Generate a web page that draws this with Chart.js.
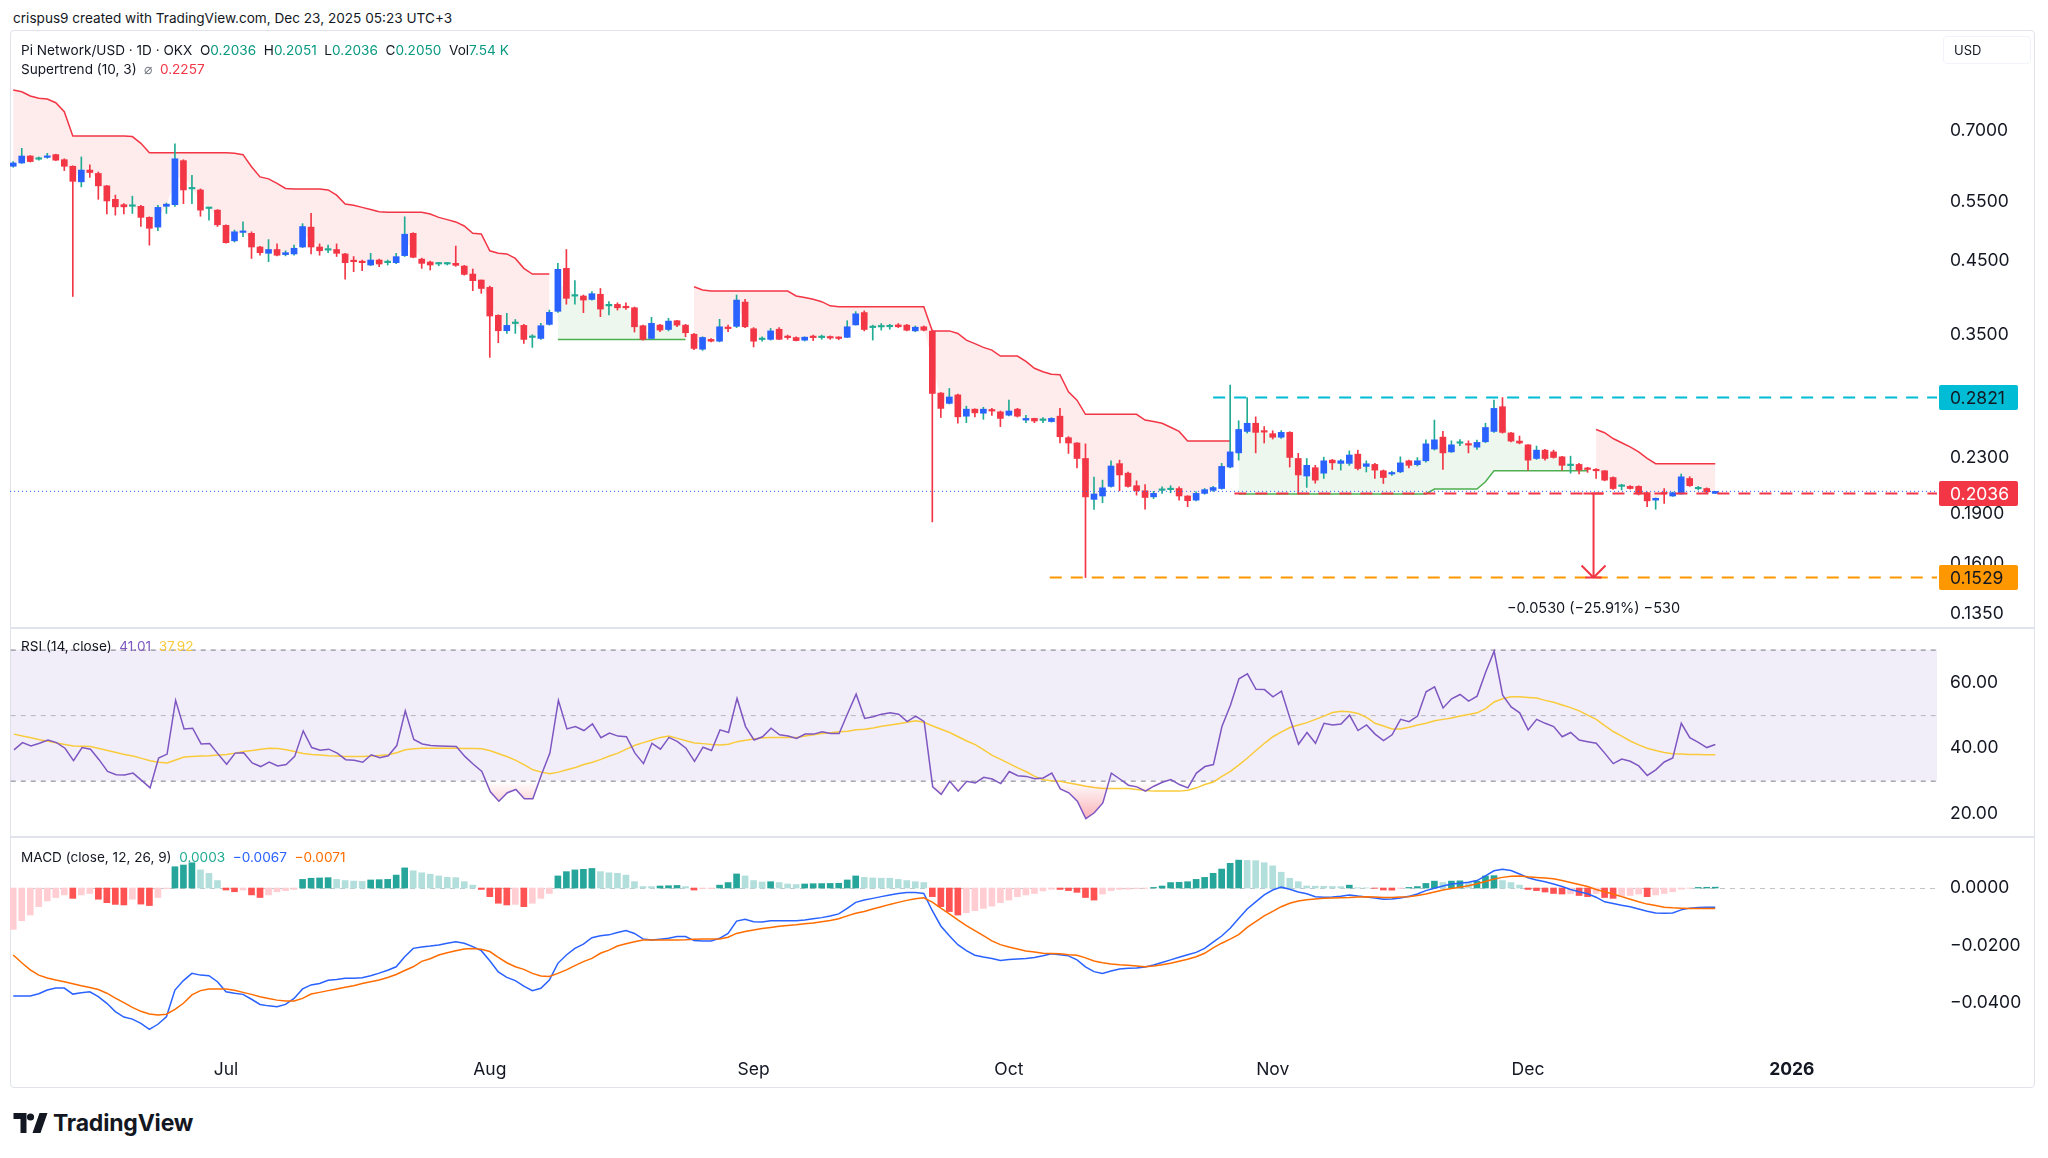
<!DOCTYPE html>
<html>
<head>
<meta charset="utf-8">
<script src="https://cdn.jsdelivr.net/npm/chart.js@4.4.1/dist/chart.umd.min.js"></script>
<style>
  body { margin: 0; width: 2048px; height: 1158px; overflow: hidden; background: #fff;
         font-family: Inter, "Noto Sans", sans-serif; color: #131722; }
  canvas { position: absolute; left: 10px; }
  .txt { position: absolute; white-space: nowrap; font-size: 13.6px; line-height: 18px; }
  .up { color: #089981; }
  .dn { color: #F23645; }
  #frame { position: absolute; left: 10px; top: 30px; width: 2025px; height: 1058px;
           border: 1px solid #E0E3EB; box-sizing: border-box; border-radius: 4px; }
  .sep { position: absolute; left: 10px; width: 2025px; height: 2px; background: #E0E3EB; }
  #usd { position: absolute; left: 1943px; top: 36px; width: 88px; height: 28px; box-sizing: border-box;
         border: 1px solid #F0F3FA; border-radius: 4px; font-size: 13px; line-height: 26px; padding-left: 10px; }
  #logo { position: absolute; left: 13px; top: 1110px; font-weight: 700; font-size: 23px; line-height: 26px;
          display: flex; align-items: center; gap: 5px; letter-spacing: -0.2px; }
</style>
</head>
<body>
<div class="txt" style="left:13px;top:9px;">crispus9 created with TradingView.com, Dec 23, 2025 05:23 UTC+3</div>
<div id="frame"></div>
<canvas id="price" width="2025" height="597" style="top:30px;width:2025px;height:597px;"></canvas>
<div class="sep" style="top:627px;"></div>
<canvas id="rsi" width="2025" height="207" style="top:629px;width:2025px;height:207px;"></canvas>
<div class="sep" style="top:836px;"></div>
<canvas id="macd" width="2025" height="250" style="top:838px;width:2025px;height:250px;"></canvas>

<div class="txt" style="left:21px;top:41px;">Pi Network/USD · 1D · OKX&nbsp; O<span class="up">0.2036</span>&nbsp; H<span class="up">0.2051</span>&nbsp; L<span class="up">0.2036</span>&nbsp; C<span class="up">0.2050</span>&nbsp; Vol<span class="up">7.54 K</span></div>
<div class="txt" style="left:21px;top:60px;">Supertrend (10, 3)&nbsp; <span style="color:#787B86">⌀</span>&nbsp; <span class="dn">0.2257</span></div>
<div id="usd">USD</div>
<div class="txt" style="left:21px;top:637px;">RSI (14, close)&nbsp; <span style="color:#7E57C2">41.01</span>&nbsp; <span style="color:#F9CB3C">37.92</span></div>
<div class="txt" style="left:21px;top:848px;">MACD (close, 12, 26, 9)&nbsp; <span style="color:#22AB94">0.0003</span>&nbsp; <span style="color:#2962FF">−0.0067</span>&nbsp; <span style="color:#FF6D00">−0.0071</span></div>
<div id="logo">
  <svg width="35" height="22" viewBox="0 0 34 22"><path d="M0 1h13v20H7V7H0z M19 21l7-20h8l-7 20z" fill="#131722"/><circle cx="17" cy="5" r="3.6" fill="#131722"/></svg>
  <span>TradingView</span>
</div>

<script>
// day numbers are counted from 2025-07-01; the first candle is 2025-06-06
const FIRST_DAY = -25;
const X_MIN = -25.38, X_MAX = 201.06;

const monthTicks = [0, 31, 62, 92, 123, 153, 184];
const monthLabels = ['Jul', 'Aug', 'Sep', 'Oct', 'Nov', 'Dec', '2026'];
const priceTicks = [0.7, 0.55, 0.45, 0.35, 0.28, 0.23, 0.19, 0.16, 0.135];
const rsiTicks = [60, 40, 20];
const macdTicks = [0, -0.02, -0.04];

const opens = [0.620,0.627,0.642,0.635,0.639,0.645,0.634,0.620,0.588,0.612,
0.605,0.580,0.554,0.544,0.541,0.541,0.521,0.504,0.541,0.544,
0.632,0.574,0.572,0.537,0.534,0.507,0.481,0.495,0.4935,0.471,
0.461,0.467,0.459,0.460,0.471,0.504,0.471,0.466,0.467,0.460,
0.4485,0.447,0.443,0.4506,0.4465,0.4465,0.4574,0.4935,0.452,0.4475,
0.4445,0.4445,0.4455,0.4414,0.4296,0.4209,0.4105,0.3733,0.3542,0.363,
0.3607,0.3462,0.345,0.3619,0.3784,0.438,0.3985,0.3986,0.394,0.401,
0.3855,0.3874,0.3834,0.383,0.3603,0.345,0.3611,0.3557,0.3665,0.361,
0.350,0.3326,0.3439,0.3418,0.3572,0.3595,0.3905,0.3566,0.3437,0.3439,
0.356,0.3465,0.346,0.343,0.3465,0.346,0.346,0.3455,0.3463,0.3613,
0.3768,0.358,0.3588,0.359,0.3613,0.361,0.354,0.359,0.3537,0.2865,
0.2766,0.2847,0.2648,0.2712,0.2675,0.270,0.2687,0.2657,0.2712,0.2613,
0.2628,0.261,0.260,0.2648,0.2461,0.2417,0.2293,0.1995,0.2018,0.2085,
0.2253,0.2181,0.209,0.2054,0.2012,0.2057,0.2062,0.207,0.2018,0.199,
0.2036,0.2057,0.207,0.2227,0.2337,0.2514,0.2585,0.2512,0.2495,0.2465,
0.2506,0.2293,0.216,0.2222,0.2181,0.228,0.2255,0.2255,0.2327,0.2232,
0.2247,0.2199,0.2175,0.2191,0.2275,0.2245,0.2275,0.2368,0.2466,0.2345,
0.2415,0.2405,0.2383,0.2427,0.2514,0.2735,0.2501,0.2433,0.2402,0.2293,
0.2359,0.2345,0.2306,0.2238,0.2247,0.2213,0.2209,0.2199,0.2149,0.2085,
0.2085,0.2085,0.2041,0.199,0.2035,0.2018,0.2032,0.2142,0.2068,0.207,0.2036];

const highs = [0.630,0.659,0.643,0.640,0.648,0.646,0.636,0.621,0.640,0.623,
0.608,0.581,0.562,0.546,0.560,0.543,0.522,0.543,0.547,0.669,
0.634,0.601,0.574,0.539,0.535,0.508,0.499,0.513,0.496,0.472,
0.483,0.476,0.465,0.474,0.510,0.528,0.476,0.474,0.476,0.461,
0.456,0.4506,0.461,0.452,0.4506,0.461,0.522,0.4946,0.4535,0.449,
0.447,0.447,0.4725,0.4425,0.437,0.421,0.4123,0.374,0.3758,0.368,
0.362,0.3494,0.3632,0.380,0.4455,0.467,0.420,0.400,0.4046,0.409,
0.391,0.3895,0.3895,0.384,0.361,0.3707,0.362,0.3695,0.367,0.362,
0.351,0.347,0.345,0.3683,0.361,0.400,0.394,0.358,0.347,0.357,
0.358,0.349,0.347,0.347,0.349,0.349,0.348,0.347,0.3665,0.378,
0.379,0.361,0.363,0.362,0.363,0.362,0.360,0.360,0.355,0.287,
0.291,0.2855,0.274,0.2715,0.273,0.272,0.2695,0.2797,0.272,0.2655,
0.263,0.2635,0.2635,0.272,0.247,0.242,0.241,0.2152,0.213,0.2275,
0.228,0.219,0.2125,0.2098,0.205,0.2082,0.209,0.2082,0.202,0.2047,
0.207,0.2085,0.2255,0.2945,0.2607,0.2821,0.2642,0.2556,0.252,0.2521,
0.2512,0.2333,0.2293,0.224,0.2303,0.2286,0.2285,0.2353,0.2359,0.2275,
0.2255,0.2205,0.2195,0.2306,0.228,0.230,0.2443,0.2613,0.2514,0.2435,
0.2445,0.2435,0.2441,0.2585,0.2797,0.2821,0.2506,0.2475,0.2405,0.2392,
0.2365,0.2359,0.231,0.2311,0.2255,0.2225,0.2215,0.220,0.2155,0.210,
0.209,0.209,0.2045,0.2005,0.207,0.2045,0.2175,0.2155,0.2085,0.2075,0.2051];

const lows = [0.618,0.626,0.629,0.633,0.637,0.632,0.611,0.398,0.578,0.597,
0.554,0.527,0.525,0.527,0.528,0.505,0.474,0.498,0.528,0.541,
0.546,0.546,0.523,0.516,0.505,0.477,0.479,0.488,0.453,0.458,
0.448,0.457,0.457,0.458,0.470,0.460,0.458,0.462,0.456,0.4223,
0.433,0.4345,0.442,0.4404,0.443,0.445,0.456,0.454,0.438,0.4355,
0.442,0.443,0.441,0.428,0.4059,0.4023,0.3235,0.340,0.351,0.351,
0.3392,0.3346,0.344,0.361,0.377,0.3877,0.3877,0.3767,0.393,0.3716,
0.3737,0.380,0.381,0.3526,0.343,0.344,0.353,0.354,0.359,0.347,
0.332,0.3313,0.341,0.341,0.353,0.358,0.358,0.3352,0.3418,0.343,
0.3435,0.344,0.342,0.342,0.3425,0.344,0.344,0.3435,0.346,0.361,
0.354,0.3431,0.355,0.356,0.358,0.354,0.353,0.354,0.1848,0.2636,
0.276,0.2585,0.259,0.2642,0.262,0.2655,0.2556,0.265,0.264,0.259,
0.259,0.259,0.2595,0.2417,0.2333,0.2221,0.1529,0.1928,0.1972,0.208,
0.2054,0.208,0.2024,0.1929,0.200,0.2036,0.204,0.199,0.1946,0.1985,
0.203,0.205,0.2065,0.222,0.228,0.250,0.2337,0.2417,0.245,0.2455,
0.2227,0.2032,0.2078,0.2108,0.2142,0.2209,0.2204,0.224,0.2205,0.219,
0.2142,0.2106,0.2165,0.2185,0.222,0.2235,0.2265,0.236,0.2209,0.234,
0.2395,0.2337,0.2365,0.242,0.2505,0.250,0.2425,0.241,0.2204,0.2285,
0.228,0.2295,0.2204,0.2181,0.2175,0.2187,0.2142,0.2125,0.2063,0.206,
0.2065,0.2025,0.1946,0.1929,0.1968,0.2015,0.203,0.2085,0.206,0.204,0.2036];

const closes = [0.627,0.642,0.630,0.636,0.642,0.633,0.620,0.589,0.612,0.607,
0.580,0.551,0.540,0.540,0.542,0.521,0.502,0.539,0.545,0.636,
0.572,0.576,0.534,0.538,0.508,0.478,0.496,0.497,0.471,0.462,
0.467,0.458,0.462,0.469,0.505,0.471,0.465,0.467,0.461,0.4465,
0.448,0.4465,0.4506,0.4445,0.447,0.4558,0.492,0.4548,0.4455,0.443,
0.4448,0.445,0.4425,0.4291,0.420,0.409,0.3724,0.3542,0.3607,0.3632,
0.3439,0.3465,0.3603,0.3771,0.4365,0.3955,0.399,0.3932,0.4018,0.3813,
0.386,0.383,0.383,0.359,0.3439,0.3632,0.355,0.366,0.361,0.3518,
0.3335,0.3462,0.3418,0.359,0.3568,0.3932,0.359,0.3418,0.3442,0.354,
0.344,0.346,0.3425,0.3465,0.346,0.3465,0.3455,0.345,0.359,0.3752,
0.3557,0.3585,0.3592,0.3595,0.359,0.3548,0.3585,0.3548,0.2861,0.2719,
0.2827,0.2642,0.2712,0.2678,0.2712,0.2695,0.2628,0.2695,0.2648,0.2628,
0.2605,0.2612,0.2628,0.2469,0.2417,0.2293,0.2012,0.2032,0.2075,0.2235,
0.2168,0.2085,0.2054,0.2008,0.2036,0.206,0.2066,0.2018,0.1986,0.2036,
0.2062,0.2077,0.2232,0.2345,0.2531,0.2585,0.2506,0.2508,0.2465,0.2506,
0.2301,0.2168,0.224,0.213,0.2275,0.2259,0.2275,0.232,0.2216,0.2252,
0.2204,0.2149,0.2185,0.2259,0.224,0.2275,0.241,0.2443,0.2337,0.2402,
0.2418,0.240,0.2422,0.2548,0.2719,0.2506,0.2433,0.2417,0.228,0.2359,
0.2293,0.2301,0.224,0.2242,0.2204,0.2209,0.2199,0.213,0.207,0.2088,
0.207,0.2032,0.1985,0.2002,0.2032,0.2041,0.2154,0.209,0.2072,0.2046,0.2050];

const supertrend = [0.8037,0.799,0.7875,0.7814,0.7795,0.7697,0.7465,0.6873,0.6873,0.6873,
0.6873,0.6873,0.6873,0.6873,0.686,0.6704,0.6493,0.6493,0.6493,0.6493,
0.6493,0.6493,0.6493,0.6493,0.6493,0.6493,0.648,0.645,0.619,0.598,
0.594,0.585,0.575,0.574,0.574,0.574,0.574,0.572,0.562,0.5454,
0.543,0.539,0.535,0.531,0.530,0.530,0.530,0.530,0.530,0.527,
0.521,0.517,0.513,0.506,0.4935,0.4925,0.465,0.461,0.460,0.453,
0.438,0.4296,0.4296,0.4296,0.3439,0.3439,0.3439,0.3439,0.3439,0.3439,
0.3439,0.3439,0.3439,0.3439,0.3439,0.3439,0.3439,0.3439,0.3439,0.3439,
0.4114,0.407,0.4054,0.4054,0.4054,0.4054,0.4054,0.4054,0.4054,0.4054,
0.4054,0.4054,0.3987,0.3965,0.3943,0.391,0.3855,0.3843,0.3843,0.3843,
0.3843,0.3843,0.3843,0.3843,0.3843,0.3843,0.3843,0.3843,0.354,0.354,
0.354,0.3509,0.3431,0.339,0.3347,0.3316,0.325,0.325,0.325,0.319,
0.3117,0.308,0.3054,0.305,0.2877,0.2797,0.2665,0.2665,0.2665,0.2665,
0.2665,0.2665,0.2665,0.2613,0.260,0.2585,0.255,0.2514,0.2433,0.2433,
0.2433,0.2433,0.2433,0.2433,0.2032,0.2032,0.2032,0.2032,0.2032,0.2032,
0.2032,0.2032,0.2032,0.2032,0.2032,0.2032,0.2032,0.2032,0.2032,0.2032,
0.2032,0.2032,0.2032,0.2032,0.2032,0.2032,0.2032,0.2066,0.2066,0.2066,
0.2066,0.2066,0.2066,0.2118,0.2199,0.2199,0.2199,0.2199,0.2199,0.2199,
0.2199,0.2199,0.2199,0.2199,0.2199,0.2199,0.2531,0.2503,0.2454,0.2419,
0.2385,0.2345,0.2294,0.2253,0.2253,0.2253,0.2253,0.2253,0.2253,0.2253,0.2253];
const upTrendRanges = [[39, 54], [119, 160]];

const rsi = [39.4,41.6,40.6,41.4,42.4,41.6,39.9,36.1,40.1,39.6,
36.4,32.8,31.8,31.7,32.3,30.1,27.8,36.9,38.1,54.5,
45.8,46.0,41.2,41.3,38.1,35.0,38.4,38.5,35.4,34.3,
35.7,34.5,34.9,37.4,45.2,40.1,39.3,39.6,38.4,36.4,
36.2,35.6,37.9,37.0,37.6,40.7,51.3,42.6,41.2,40.7,
40.6,40.5,40.4,37.4,35.0,32.8,26.6,23.7,26.3,27.3,
24.5,24.5,31.8,38.4,54.5,45.8,46.5,45.3,47.3,43.1,
44.5,43.6,43.4,38.4,35.2,41.4,39.6,43.2,41.9,39.9,
35.9,40.2,39.2,45.5,44.7,55.1,46.5,42.4,43.4,46.0,
44.0,43.6,42.9,44.2,44.2,44.9,44.4,44.4,50.5,56.4,
49.0,49.5,50.3,50.7,50.3,48.0,49.7,48.0,28.1,25.8,
29.8,26.8,29.8,29.3,31.0,30.5,29.1,32.8,31.5,31.3,
30.6,30.8,32.3,27.5,26.3,23.7,18.4,20.2,23.2,32.3,
30.5,28.6,28.1,26.8,28.3,29.5,30.3,28.8,27.8,32.3,
34.3,34.9,46.5,53.0,61.1,62.6,57.9,57.8,55.6,57.3,
49.0,41.1,44.7,41.4,47.5,47.0,47.3,50.0,45.3,47.0,
44.2,42.2,44.0,48.7,48.0,49.7,57.1,58.6,52.2,55.0,
56.3,54.3,55.8,63.1,69.5,56.1,52.5,50.7,45.5,48.7,
47.5,46.5,43.4,44.7,42.4,41.9,41.4,38.4,35.2,36.6,
35.9,34.5,31.6,33.3,35.7,36.9,47.5,43.1,41.7,40.1,41.01];

const rsiMa = [44.2,43.6,43.1,42.5,42.0,41.5,41.0,40.6,40.5,40.4,
39.8,39.2,38.6,38.0,37.5,36.8,36.1,35.6,35.4,36.3,
37.2,37.4,37.5,37.6,37.8,38.0,38.4,38.9,39.2,39.6,
39.9,39.8,39.4,38.9,38.3,38.0,37.8,37.6,37.5,37.4,
37.4,37.4,37.5,37.7,37.9,38.5,39.4,39.7,39.9,39.9,
39.9,39.9,39.9,39.8,39.8,39.7,39.1,38.2,37.3,36.2,
34.8,33.3,32.6,32.1,32.6,33.3,34.0,34.9,35.6,36.5,
37.5,38.4,39.6,40.8,41.6,42.4,43.2,43.6,42.9,42.2,
41.5,41.3,41.0,40.9,41.1,41.9,42.3,42.7,43.1,43.2,
43.2,43.2,43.2,43.6,44.0,44.4,44.6,44.9,45.1,45.5,
45.7,46.1,46.6,47.0,47.4,47.8,48.3,47.8,46.7,45.7,
44.7,43.4,42.1,41.0,39.4,37.7,36.5,35.2,33.9,32.7,
31.3,30.3,30.0,29.8,29.3,28.8,28.3,27.9,27.6,27.6,
27.6,27.6,27.3,27.0,26.8,26.8,26.8,26.8,27.1,27.8,
28.8,29.6,31.3,32.8,34.8,36.9,39.2,41.4,43.4,44.9,
46.2,47.0,47.7,48.7,49.7,50.8,51.2,51.0,50.5,49.3,
47.5,46.7,45.8,45.8,46.3,47.0,47.5,48.3,48.7,49.1,
49.7,50.2,50.7,52.0,54.0,55.0,55.6,55.6,55.4,55.2,
54.5,53.9,53.1,52.3,51.3,50.0,48.7,46.8,45.0,43.6,
42.1,40.9,39.9,39.2,38.6,38.2,38.1,38.0,38.0,37.9,37.92];

const macdLine = [-0.0376,-0.0376,-0.0376,-0.0368,-0.0355,-0.0348,-0.0348,-0.0369,-0.0364,-0.0361,
-0.0378,-0.0401,-0.043,-0.0449,-0.0456,-0.0471,-0.0492,-0.0474,-0.0448,-0.0355,
-0.0322,-0.0297,-0.0303,-0.0305,-0.0326,-0.0361,-0.0366,-0.037,-0.0387,-0.0405,
-0.041,-0.0413,-0.0405,-0.0384,-0.0351,-0.0337,-0.0332,-0.0321,-0.0318,-0.0314,
-0.0314,-0.0312,-0.0305,-0.0296,-0.0286,-0.0274,-0.0239,-0.021,-0.0205,-0.0202,
-0.0198,-0.0192,-0.0187,-0.0192,-0.0204,-0.0218,-0.0253,-0.0292,-0.0311,-0.0322,
-0.0341,-0.0357,-0.0349,-0.032,-0.0262,-0.0233,-0.021,-0.0195,-0.0173,-0.0166,
-0.0163,-0.0155,-0.0148,-0.0158,-0.0177,-0.0181,-0.0178,-0.0175,-0.0169,-0.0169,
-0.0183,-0.0184,-0.0184,-0.0175,-0.0158,-0.0115,-0.0109,-0.0117,-0.0118,-0.0114,
-0.0114,-0.0114,-0.0114,-0.0111,-0.0107,-0.0103,-0.0097,-0.009,-0.0071,-0.005,
-0.0042,-0.0036,-0.003,-0.0024,-0.0019,-0.0016,-0.0016,-0.0019,-0.0079,-0.0132,
-0.0166,-0.0197,-0.0218,-0.0234,-0.024,-0.0245,-0.0252,-0.0249,-0.0247,-0.0245,
-0.0242,-0.0236,-0.0229,-0.0232,-0.0236,-0.025,-0.0274,-0.0291,-0.0297,-0.0289,
-0.0282,-0.0279,-0.0278,-0.0275,-0.0268,-0.0259,-0.025,-0.0241,-0.0232,-0.0224,
-0.021,-0.0188,-0.0167,-0.014,-0.0106,-0.0073,-0.0048,-0.0024,-0.0007,0.0003,
-0.0004,-0.0014,-0.002,-0.003,-0.0032,-0.0031,-0.0029,-0.0024,-0.0028,-0.0031,
-0.0035,-0.0039,-0.0038,-0.0035,-0.0029,-0.0021,-0.0009,-0.0001,0.0007,0.0014,
0.0017,0.002,0.0026,0.0042,0.006,0.0065,0.0061,0.0049,0.0036,0.0028,
0.0022,0.0014,0.0005,-0.0005,-0.0013,-0.002,-0.0032,-0.0048,-0.0054,-0.006,
-0.0065,-0.0073,-0.0081,-0.0087,-0.0088,-0.0087,-0.0076,-0.007,-0.0068,-0.0067,-0.0067];

const signalLine = [-0.0233,-0.026,-0.0285,-0.0303,-0.0313,-0.032,-0.0326,-0.0333,-0.034,-0.0346,
-0.0353,-0.0366,-0.0383,-0.0399,-0.0415,-0.0429,-0.0438,-0.0442,-0.0439,-0.0422,
-0.0401,-0.0372,-0.0357,-0.0351,-0.0351,-0.0351,-0.0356,-0.0363,-0.037,-0.0378,
-0.0384,-0.039,-0.0393,-0.0393,-0.0384,-0.0369,-0.0363,-0.0357,-0.0351,-0.0345,
-0.034,-0.0332,-0.0326,-0.032,-0.0311,-0.0301,-0.0287,-0.0274,-0.0255,-0.0246,
-0.0233,-0.0225,-0.0218,-0.0212,-0.021,-0.0213,-0.0221,-0.0241,-0.026,-0.0274,
-0.0283,-0.0297,-0.0306,-0.0308,-0.0297,-0.0285,-0.027,-0.0256,-0.0245,-0.0227,
-0.0216,-0.0202,-0.0194,-0.0187,-0.0181,-0.0181,-0.0181,-0.0181,-0.0181,-0.018,
-0.0178,-0.0177,-0.0177,-0.0177,-0.0171,-0.0158,-0.0151,-0.0146,-0.0141,-0.0137,
-0.0133,-0.013,-0.0128,-0.0124,-0.0122,-0.0117,-0.0113,-0.0107,-0.0097,-0.0088,
-0.0082,-0.0073,-0.0065,-0.0057,-0.005,-0.0043,-0.0037,-0.0034,-0.0049,-0.007,
-0.009,-0.0111,-0.0131,-0.0148,-0.0166,-0.0184,-0.0197,-0.0205,-0.0212,-0.0219,
-0.0223,-0.0227,-0.0228,-0.0229,-0.0232,-0.0234,-0.0243,-0.0254,-0.026,-0.0264,
-0.0267,-0.0269,-0.0271,-0.0274,-0.0271,-0.0267,-0.0262,-0.0255,-0.0248,-0.0239,
-0.0227,-0.0208,-0.0192,-0.0178,-0.0162,-0.0137,-0.0117,-0.0097,-0.0081,-0.0065,
-0.0053,-0.0045,-0.0041,-0.0038,-0.0036,-0.0035,-0.0034,-0.0033,-0.0031,-0.003,
-0.0031,-0.0033,-0.0033,-0.0031,-0.003,-0.0026,-0.0021,-0.0014,-0.0007,-0.0002,
0.0003,0.0008,0.0015,0.0023,0.0031,0.0037,0.0041,0.0042,0.0039,0.0037,
0.0035,0.0032,0.0026,0.0019,0.0012,0.0005,-0.0005,-0.0013,-0.0021,-0.003,
-0.0039,-0.0048,-0.0056,-0.0061,-0.0067,-0.0069,-0.007,-0.0071,-0.0071,-0.0071,-0.0071];

const histogram = [-0.0144,-0.0114,-0.0094,-0.0065,-0.0045,-0.0033,-0.0024,-0.0036,-0.0024,-0.0019,
-0.0039,-0.0051,-0.0057,-0.0059,-0.0039,-0.0056,-0.0061,-0.0033,-0.0002,0.0074,
0.008,0.0088,0.0063,0.0051,0.0026,-0.0007,-0.0013,-0.0007,-0.0024,-0.0033,
-0.0024,-0.0013,-0.0009,-0.0005,0.003,0.0034,0.0035,0.0036,0.003,0.0026,
0.0024,0.0023,0.0028,0.0029,0.003,0.0045,0.007,0.006,0.0053,0.0048,
0.0042,0.0037,0.0036,0.0022,0.001,-0.0005,-0.003,-0.0053,-0.0059,-0.0057,
-0.0065,-0.0053,-0.0036,-0.0019,0.0042,0.0057,0.0063,0.0065,0.0068,0.0057,
0.0053,0.0051,0.0045,0.0022,0.0005,0.0005,0.0007,0.0008,0.0009,0.0005,
-0.0007,-0.0002,-0.0002,0.001,0.0019,0.0049,0.0042,0.0026,0.0021,0.0022,
0.0019,0.0014,0.0012,0.0014,0.0015,0.00155,0.0016,0.00165,0.0028,0.0042,
0.0037,0.0035,0.0034,0.0034,0.003,0.0026,0.0022,0.0019,-0.003,-0.0065,
-0.0082,-0.0094,-0.0086,-0.0079,-0.0071,-0.0063,-0.0051,-0.0042,-0.003,-0.0024,
-0.0019,-0.001,-0.0004,-0.0005,-0.0009,-0.0015,-0.0033,-0.0042,-0.0021,-0.0009,
-0.0005,-0.0004,-0.0002,-0.0001,0.0002,0.0007,0.0019,0.002,0.0022,0.003,
0.0037,0.0051,0.0066,0.0086,0.0097,0.0096,0.0095,0.0088,0.0077,0.0055,
0.0034,0.0022,0.0007,0.00065,0.0006,0.00055,0.0005,0.001,0.0001,0.00005,
-0.0001,-0.0007,-0.00075,-0.0001,0.0002,0.0005,0.0016,0.0024,0.0019,0.0024,
0.0025,0.0019,0.0024,0.0042,0.0043,0.0026,0.0019,0.001,-0.0005,-0.0009,
-0.0014,-0.0019,-0.0021,-0.002,-0.0026,-0.003,-0.0019,-0.0033,-0.0036,-0.003,
-0.0026,-0.0021,-0.003,-0.0024,-0.0019,-0.0013,-0.0004,-0.0001,0.0002,0.00025,0.0003];

// drawings on the price pane
const levelPrices = [0.2821, 0.2036, 0.1529];
const levelStartDays = [116, 118.5, 96.8];
const levelColors = ['#00BCD4', '#F23645', '#FF9800'];
const levelTextColors = ['#131722', '#FFFFFF', '#131722'];
const measureDay = 160.7;
const measureText = '−0.0530 (−25.91%) −530';

const FONT = 'Inter, "Noto Sans", sans-serif';
const AXIS_SIZE = 17.5;
const UP = '#2962FF', UP_WICK = '#22AB94', DOWN = '#F23645';
Chart.defaults.font.family = FONT;

const days = opens.map((_, i) => FIRST_DAY + i);
const isUpTrend = i => upTrendRanges.some(r => days[i] >= r[0] && days[i] <= r[1]);
const isUp = i => closes[i] >= opens[i];
const isDoji = i => Math.abs(closes[i] - opens[i]) / opens[i] < 0.004;

function fixAxis(width) {
  return s => { s.width = width; s.paddingTop = 0; s.paddingBottom = 0; };
}
function rightAxis(type, min, max, ticks, fmt) {
  return {
    type: type, position: 'right', min: min, max: max,
    grid: { display: false, drawTicks: false }, border: { display: false },
    afterBuildTicks: s => { s.ticks = ticks.map(v => ({ value: v })); },
    afterFit: fixAxis(98),
    ticks: { callback: v => fmt(v), color: '#131722', font: { size: AXIS_SIZE }, padding: 13, autoSkip: false }
  };
}
const hiddenX = { type: 'linear', min: X_MIN, max: X_MAX, display: false, offset: false };
const common = {
  responsive: false, animation: false, events: [],
  layout: { padding: 0 },
  plugins: { legend: { display: false }, tooltip: { enabled: false } }
};
const pts = arr => arr.map((v, i) => ({ x: days[i], y: v }));
const segment = (x0, x1, y) => [{ x: x0, y: y }, { x: x1, y: y }];

// ---------- price pane ----------
const priceDecor = {
  id: 'priceDecor',
  afterDatasetsDraw(chart) {
    const { ctx, scales: { x, y } } = chart;
    const ax = x.getPixelForValue(measureDay);
    const yTop = y.getPixelForValue(levelPrices[1]);
    const yBot = y.getPixelForValue(levelPrices[2]);
    ctx.save();
    ctx.strokeStyle = DOWN;
    ctx.lineWidth = 2;
    ctx.beginPath();
    ctx.moveTo(ax - 10, yTop); ctx.lineTo(ax + 10, yTop);
    ctx.moveTo(ax - 12, yBot - 12); ctx.lineTo(ax, yBot); ctx.lineTo(ax + 12, yBot - 12);
    ctx.moveTo(ax - 8, yBot); ctx.lineTo(ax + 8, yBot);
    ctx.stroke();
    ctx.fillStyle = '#131722';
    ctx.font = '14.5px ' + FONT;
    ctx.textAlign = 'center';
    ctx.textBaseline = 'middle';
    ctx.fillText(measureText, ax, yBot + 31);
    ctx.restore();
  },
  afterDraw(chart) {
    const { ctx, scales: { y }, chartArea } = chart;
    ctx.save();
    levelPrices.forEach((v, k) => {
      const py = y.getPixelForValue(v);
      ctx.fillStyle = levelColors[k];
      ctx.beginPath();
      ctx.roundRect(chartArea.right + 2, py - 12.5, 79, 25, 2);
      ctx.fill();
      ctx.fillStyle = levelTextColors[k];
      ctx.font = AXIS_SIZE + 'px ' + FONT;
      ctx.textAlign = 'left';
      ctx.textBaseline = 'middle';
      ctx.fillText(v.toFixed(4), chartArea.right + 13, py + 1);
    });
    ctx.restore();
  }
};

const mids = opens.map((o, i) => (o + closes[i]) / 2);
new Chart(document.getElementById('price'), {
  type: 'bar',
  data: {
    datasets: [
      { type: 'line', data: pts(mids), borderWidth: 0, borderColor: 'rgba(0,0,0,0)', pointRadius: 0, order: 3 },
      { type: 'line', data: pts(supertrend.map((v, i) => isUpTrend(i) ? null : v)),
        borderColor: '#F23645', borderWidth: 1.5, pointRadius: 0, spanGaps: false, order: 2,
        fill: { target: 0, above: 'rgba(242,54,69,0.1)', below: 'rgba(242,54,69,0.1)' } },
      { type: 'line', data: pts(supertrend.map((v, i) => isUpTrend(i) ? v : null)),
        borderColor: '#4CAF50', borderWidth: 1.5, pointRadius: 0, spanGaps: false, order: 2,
        fill: { target: 0, above: 'rgba(76,175,80,0.1)', below: 'rgba(76,175,80,0.1)' } },
      { data: days.map((d, i) => ({ x: d, y: [lows[i], highs[i]] })), grouped: false, barThickness: 1,
        backgroundColor: days.map((d, i) => isUp(i) ? UP_WICK : DOWN), order: 1 },
      { data: days.map((d, i) => ({ x: d, y: [opens[i], closes[i]] })), grouped: false, barThickness: 6,
        minBarLength: 1.5,
        backgroundColor: days.map((d, i) => isUp(i) ? (isDoji(i) ? UP_WICK : UP) : DOWN), order: 0 },
      { type: 'line', data: segment(X_MIN, X_MAX, closes[closes.length - 1]), borderColor: '#2962FF',
        borderWidth: 1, borderDash: [1, 3], pointRadius: 0, order: -1 },
      ...levelPrices.map((v, k) => ({ type: 'line', data: segment(levelStartDays[k], X_MAX, v),
        borderColor: levelColors[k], borderWidth: 2, borderDash: [12, 9], pointRadius: 0, order: -2 })),
      { type: 'line', data: [{ x: measureDay, y: levelPrices[1] }, { x: measureDay, y: levelPrices[2] }],
        borderColor: DOWN, borderWidth: 2, pointRadius: 0, order: -3 }
    ]
  },
  options: Object.assign({}, common, {
    scales: {
      x: hiddenX,
      y: rightAxis('logarithmic', 0.1292, 0.9859, priceTicks, v => v.toFixed(4))
    }
  }),
  plugins: [priceDecor]
});

// ---------- RSI pane ----------
const rsiBand = {
  id: 'rsiBand',
  beforeDatasetsDraw(chart) {
    const { ctx, scales: { y }, chartArea: a } = chart;
    const y70 = y.getPixelForValue(70), y50 = y.getPixelForValue(50), y30 = y.getPixelForValue(30);
    ctx.save();
    ctx.fillStyle = 'rgba(126,87,194,0.1)';
    ctx.fillRect(a.left, y70, a.right - a.left, y30 - y70);
    ctx.lineWidth = 1;
    ctx.setLineDash([5, 5]);
    [[y70, '#787B86'], [y50, 'rgba(120,123,134,0.5)'], [y30, '#787B86']].forEach(([py, c]) => {
      ctx.strokeStyle = c;
      ctx.beginPath(); ctx.moveTo(a.left, py + 0.5); ctx.lineTo(a.right, py + 0.5); ctx.stroke();
    });
    ctx.restore();
  }
};
const rsiChart = new Chart(document.getElementById('rsi'), {
  type: 'line',
  data: {
    datasets: [
      { data: pts(rsi), borderColor: '#7E57C2', borderWidth: 1.5, pointRadius: 0,
        fill: { target: { value: 30 }, above: 'rgba(0,0,0,0)', below: 'rgba(242,54,69,0.2)' } },
      { data: pts(rsiMa), borderColor: '#F9CB3C', borderWidth: 1.5, pointRadius: 0 }
    ]
  },
  options: Object.assign({}, common, {
    scales: {
      x: hiddenX,
      y: rightAxis('linear', 13.33, 76.06, rsiTicks, v => v.toFixed(2))
    }
  }),
  plugins: [rsiBand]
});
// oversold zone fades out towards the 30 line
(function () {
  const ys = rsiChart.scales.y;
  const g = rsiChart.ctx.createLinearGradient(0, ys.getPixelForValue(30), 0, ys.getPixelForValue(15));
  g.addColorStop(0, 'rgba(242,54,69,0)');
  g.addColorStop(1, 'rgba(242,54,69,0.5)');
  rsiChart.data.datasets[0].fill.below = g;
  rsiChart.update();
})();

// ---------- MACD pane ----------
function histColor(i) {
  const v = histogram[i], p = i > 0 ? histogram[i - 1] : v;
  if (v >= 0) return v > p ? '#26A69A' : '#B2DFDB';
  return v < p ? '#FF5252' : '#FFCDD2';
}
const zeroLine = {
  id: 'zeroLine',
  beforeDatasetsDraw(chart) {
    const { ctx, scales: { y }, chartArea: a } = chart;
    const py = y.getPixelForValue(0);
    ctx.save();
    ctx.strokeStyle = 'rgba(120,123,134,0.45)';
    ctx.lineWidth = 1;
    ctx.setLineDash([5, 5]);
    ctx.beginPath(); ctx.moveTo(a.left, py + 0.5); ctx.lineTo(a.right, py + 0.5); ctx.stroke();
    ctx.restore();
  }
};
const fmtMacd = v => (v < 0 ? '−' : '') + Math.abs(v).toFixed(4);
new Chart(document.getElementById('macd'), {
  type: 'bar',
  data: {
    datasets: [
      { data: pts(histogram), grouped: false, barThickness: 6, backgroundColor: days.map((d, i) => histColor(i)), order: 2 },
      { type: 'line', data: pts(macdLine), borderColor: '#2962FF', borderWidth: 1.5, pointRadius: 0, order: 1 },
      { type: 'line', data: pts(signalLine), borderColor: '#FF6D00', borderWidth: 1.5, pointRadius: 0, order: 0 }
    ]
  },
  options: Object.assign({}, common, {
    scales: {
      x: {
        type: 'linear', min: X_MIN, max: X_MAX, offset: false, position: 'bottom',
        grid: { display: false, drawTicks: false }, border: { display: false },
        afterBuildTicks: s => { s.ticks = monthTicks.map(v => ({ value: v })); },
        afterFit: s => { s.height = 37; s.paddingLeft = 0; s.paddingRight = 0; },
        ticks: {
          autoSkip: false, maxRotation: 0, padding: 8, color: '#131722',
          callback: v => monthLabels[monthTicks.indexOf(v)],
          font: ctx => ({ size: AXIS_SIZE, weight: ctx.tick && ctx.tick.value === 184 ? 'bold' : 'normal' })
        }
      },
      y: rightAxis('linear', -0.0567, 0.0174, macdTicks, fmtMacd)
    }
  }),
  plugins: [zeroLine]
});
</script>
</body>
</html>
